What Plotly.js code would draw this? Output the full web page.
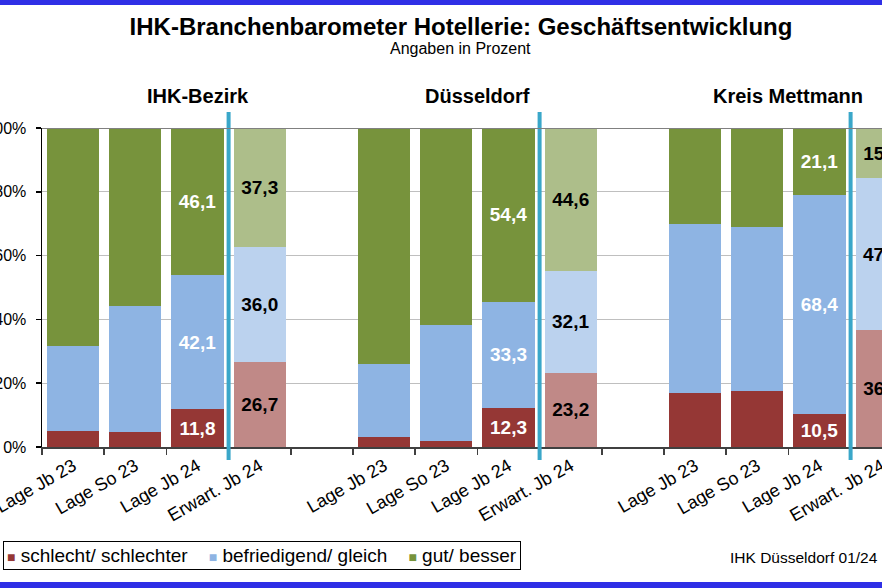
<!DOCTYPE html>
<html><head><meta charset="utf-8">
<script src="https://cdn.plot.ly/plotly-3.0.1.min.js"></script>
<style>
html,body{margin:0;padding:0;overflow:hidden;background:#fff;width:882px;height:588px;position:relative}
#chart{width:980px;height:588px}
.frame{position:absolute;left:0;width:882px;background:#2f2fe6;z-index:10}
</style></head><body>
<div id="chart"></div>
<div class="frame" style="top:0;height:5px"></div>
<div class="frame" style="top:582px;height:6px"></div>
<script>
// ---- data ----
const groups = ['IHK-Bezirk', 'Düsseldorf', 'Kreis Mettmann'];
const periods = ['Lage Jb 23', 'Lage So 23', 'Lage Jb 24', 'Erwart. Jb 24'];
const seriesNames = ['schlecht/ schlechter', 'befriedigend/ gleich', 'gut/ besser'];
const schlecht     = [5.1, 4.8, 11.8, 26.7,   3.2, 1.8, 12.3, 23.2,   17.0, 17.6, 10.5, 36.8];
const befriedigend = [26.6, 39.4, 42.1, 36.0, 22.8, 36.4, 33.3, 32.1,  52.8, 51.4, 68.4, 47.4];
const gut          = [68.3, 55.8, 46.1, 37.3, 74.0, 61.8, 54.4, 44.6,  30.2, 31.0, 21.1, 15.8];
const yTicks = [0, 20, 40, 60, 80, 100];
const yTickText = ['0%', '20%', '40%', '60%', '80%', '100%'];

// ---- styles ----
const FONT = 'Liberation Sans, Arial, sans-serif';
const dark  = ['#953735', '#8EB4E3', '#77933C'];
const light = ['#C08987', '#BBD2EE', '#ADBE8A'];

const seriesValues = [schlecht, befriedigend, gut];
const slot = periods.length + 1;
const xs = [], tickText = [];
groups.forEach((g, gi) => periods.forEach((p, pi) => { xs.push(gi * slot + pi); tickText.push(p); }));
const nCat = groups.length * slot;
const boundaries = [];
for (let i = 0; i < nCat; i++) boundaries.push(i - 0.5);
const pIdx = i => i % periods.length;
const fmt = v => v.toFixed(1).replace('.', ',');

const traces = seriesValues.map((vals, s) => ({
  type: 'bar', name: seriesNames[s], x: xs, y: vals,
  marker: { color: vals.map((v, i) => pIdx(i) === 3 ? light[s] : dark[s]), line: { width: 0 } },
  text: vals.map((v, i) => pIdx(i) >= 2 ? fmt(v) : ''),
  textposition: 'inside', insidetextanchor: 'middle', textangle: 0, constraintext: 'none',
  textfont: { family: FONT, size: 19, weight: 700, color: vals.map((v, i) => pIdx(i) === 3 ? '#000' : '#fff') },
  hoverinfo: 'skip', showlegend: false
}));

// pixel helpers
const W = 980, H = 588, L = 42, T = 128, B = 141;
const plotW = 933, plotH = H - T - B;
const R = W - L - plotW;
const px = p => (p - L) / plotW;
const py = p => (H - B - p) / plotH;

const shapes = groups.map((g, gi) => ({
  type: 'line', xref: 'x', yref: 'paper', x0: gi * slot + 2.5, x1: gi * slot + 2.5,
  y0: py(460), y1: py(112), line: { color: '#3AA7C9', width: 4 }
}));
shapes.push({ type: 'line', xref: 'paper', yref: 'y', x0: 0, x1: 1, y0: 100, y1: 100, line: { color: '#808080', width: 2 } });

const groupTitleX = [2, 6.5, 11.5];
const annotations = groups.map((g, gi) => ({
  text: g, xref: 'x', yref: 'paper', x: groupTitleX[gi], y: py(96), showarrow: false,
  xanchor: 'center', yanchor: 'middle', font: { family: FONT, size: 20, weight: 700, color: '#000' }
}));
annotations.push({ text: 'Angaben in Prozent', xref: 'paper', yref: 'paper', x: px(460), y: py(49),
  showarrow: false, xanchor: 'center', yanchor: 'middle', font: { family: FONT, size: 16, color: '#000' } });
annotations.push({ text: 'IHK Düsseldorf 01/24', xref: 'paper', yref: 'paper', x: px(880), y: py(557),
  showarrow: false, xanchor: 'right', yanchor: 'middle', font: { family: FONT, size: 15.5, color: '#000' } });
const legendText = seriesNames.map((n, s) =>
  '<span style="color:' + dark[s] + ';font-size:14px">■</span>\u00a0' + n).join('\u00a0\u00a0\u00a0\u00a0');
annotations.push({ text: legendText, xref: 'paper', yref: 'paper', x: px(3), y: py(555),
  showarrow: false, xanchor: 'left', yanchor: 'middle', align: 'left',
  bordercolor: '#000', borderwidth: 1, borderpad: 3, bgcolor: '#fff',
  font: { family: FONT, size: 19, color: '#000' } });

const layout = {
  width: W, height: H, margin: { l: L, r: R, t: T, b: B, pad: 0 },
  paper_bgcolor: '#fff', plot_bgcolor: '#fff',
  barmode: 'stack', bargap: 0.16, showlegend: false,
  font: { family: FONT, color: '#000' },
  title: { text: 'IHK-Branchenbarometer Hotellerie: Geschäftsentwicklung', xref: 'container', yref: 'container',
    x: 461 / W, y: 1 - 27 / H, xanchor: 'center', yanchor: 'middle',
    font: { family: FONT, size: 24, weight: 700, color: '#000' } },
  xaxis: {
    range: [-0.5, nCat - 0.5], tickmode: 'array', tickvals: xs, ticktext: tickText,
    tickangle: -30, ticks: '', tickfont: { family: FONT, size: 18, color: '#000' }, ticklabeloverflow: 'allow',
    showline: true, linecolor: '#404040', linewidth: 1.5, showgrid: false, zeroline: false, fixedrange: true,
    minor: { tickmode: 'array', tickvals: boundaries, ticks: 'outside', ticklen: 6, tickcolor: '#404040', tickwidth: 1.5, showgrid: false }
  },
  yaxis: {
    range: [0, 100], tickmode: 'array', tickvals: yTicks, ticktext: yTickText,
    ticks: 'outside', ticklen: 5, tickcolor: '#000', tickwidth: 1.5, ticklabeloverflow: 'allow',
    showline: true, linecolor: '#000', linewidth: 1.5,
    showgrid: true, gridcolor: '#bfbfbf', gridwidth: 1, zeroline: false,
    tickfont: { family: FONT, size: 16, color: '#000' }, ticklabelstandoff: 6, fixedrange: true
  },
  shapes: shapes, annotations: annotations
};

Plotly.newPlot('chart', traces, layout, { staticPlot: true, displayModeBar: false });
</script>
</body></html>
